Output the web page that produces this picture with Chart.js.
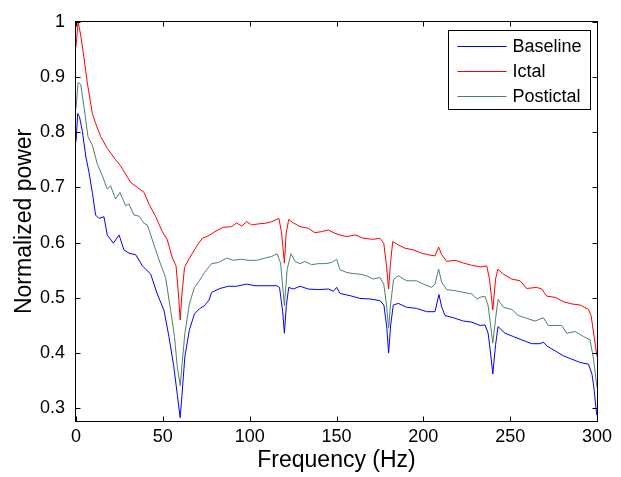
<!DOCTYPE html>
<html>
<head>
<meta charset="utf-8">
<script src="https://cdn.jsdelivr.net/npm/chart.js@4"></script>
<style>
    body { margin: 0; background: #fff; }
</style>
</head>
<body>
<canvas id="spectrum" width="621" height="477"></canvas>
<script>
// Частоты (Гц) и нормированная мощность для каждой кривой
const baselineFreq = [0, 1, 2, 3.7, 5.6, 7.5, 9.4, 11.3, 13.2, 16.1, 18, 21.5, 24.8, 27.6, 30.5, 34.4, 38.2, 43, 46.8, 50.7, 53.5, 56.3, 58.4, 60, 61, 62.7, 65.3, 68.2, 71, 74, 76.6, 78.1, 82.9, 87.7, 92.5, 98.3, 103.1, 108.8, 115.6, 117.2, 119, 120, 121.1, 122.5, 125.1, 129, 133.8, 139.5, 145.3, 148.2, 150.1, 152, 157.8, 163.5, 169.3, 175, 177.3, 179, 180, 181.2, 182.7, 185.6, 190.4, 196.1, 201.9, 206.7, 209, 210.6, 212.5, 217.3, 223.1, 227.9, 232.7, 235.5, 237.3, 238.8, 240, 241.6, 243, 247, 251.8, 256.6, 262.4, 267.2, 269.1, 271.1, 275.9, 280.7, 285.5, 290.3, 295.1, 297.1, 298.4, 299.5, 300];
const baselinePower = [0.783, 0.834, 0.828, 0.801, 0.757, 0.727, 0.691, 0.650, 0.644, 0.647, 0.614, 0.599, 0.614, 0.587, 0.581, 0.578, 0.558, 0.543, 0.507, 0.477, 0.430, 0.376, 0.323, 0.283, 0.323, 0.394, 0.442, 0.471, 0.480, 0.486, 0.496, 0.510, 0.517, 0.521, 0.521, 0.525, 0.522, 0.522, 0.522, 0.519, 0.475, 0.436, 0.486, 0.519, 0.516, 0.521, 0.516, 0.515, 0.516, 0.512, 0.519, 0.508, 0.504, 0.499, 0.498, 0.495, 0.487, 0.445, 0.400, 0.451, 0.487, 0.490, 0.483, 0.481, 0.475, 0.475, 0.506, 0.483, 0.468, 0.464, 0.458, 0.456, 0.450, 0.451, 0.436, 0.398, 0.362, 0.415, 0.448, 0.436, 0.430, 0.424, 0.417, 0.417, 0.420, 0.413, 0.404, 0.395, 0.389, 0.383, 0.380, 0.362, 0.333, 0.297, 0.287];

const ictalFreq = [0, 1.2, 2.7, 4.6, 6.5, 9.4, 11.3, 14.2, 18, 22.8, 25.7, 31.5, 35.3, 39.2, 42, 45.9, 49.7, 52.6, 55.5, 57.6, 59, 60, 61, 62.5, 65.3, 70, 72.8, 76.6, 80, 84.8, 89.6, 92.5, 95.4, 98.3, 101.1, 105, 108.8, 112.7, 116.8, 118.3, 120, 121, 122.5, 125.1, 129, 133.8, 137.6, 141.4, 145.3, 149.1, 152, 155.9, 160.7, 165.5, 171.2, 175, 177.2, 178.8, 180, 181.1, 182.4, 185.6, 189.4, 194.2, 199, 202.9, 206.7, 208.8, 210.6, 213.5, 218.3, 223.1, 227.9, 232.7, 236.5, 238.1, 240, 241.6, 242.9, 246.1, 250.9, 255.7, 259.5, 265.3, 268.2, 271.1, 275.9, 280.7, 285.5, 290.3, 295.1, 296.6, 298.2, 300];
const ictalPower = [0.955, 1.0, 0.976, 0.935, 0.890, 0.834, 0.816, 0.792, 0.771, 0.750, 0.739, 0.709, 0.700, 0.691, 0.670, 0.647, 0.620, 0.605, 0.572, 0.558, 0.507, 0.460, 0.507, 0.555, 0.572, 0.596, 0.608, 0.613, 0.620, 0.628, 0.629, 0.636, 0.630, 0.638, 0.632, 0.634, 0.635, 0.638, 0.644, 0.620, 0.563, 0.617, 0.642, 0.636, 0.629, 0.626, 0.618, 0.620, 0.623, 0.617, 0.614, 0.611, 0.614, 0.608, 0.606, 0.608, 0.599, 0.558, 0.516, 0.564, 0.602, 0.596, 0.590, 0.587, 0.581, 0.578, 0.576, 0.592, 0.578, 0.566, 0.568, 0.563, 0.559, 0.556, 0.558, 0.534, 0.478, 0.534, 0.552, 0.543, 0.534, 0.531, 0.517, 0.519, 0.516, 0.503, 0.501, 0.493, 0.489, 0.487, 0.479, 0.468, 0.433, 0.394];

const postictalFreq = [0, 1.2, 2.7, 4.6, 6.9, 9.4, 12.3, 15.2, 18, 19.9, 22.8, 25.3, 28.6, 30.5, 33.4, 36.3, 39.2, 41.1, 44.9, 48.7, 51.6, 54.5, 56.7, 58.3, 60, 60.8, 62.7, 65.3, 68.2, 71, 74, 78.1, 82, 86.8, 90.6, 95.4, 99.2, 104, 108.8, 112.7, 115.8, 117.8, 120, 121.6, 123.8, 126.1, 129, 131.9, 135.7, 139.5, 143.4, 147.2, 150.1, 152, 155.9, 159.7, 163.5, 167.4, 171.2, 175, 177.2, 178.8, 180, 181.1, 182.9, 185.6, 190.4, 196.1, 200, 204.8, 206.7, 208.8, 210.6, 213.5, 218.3, 223.1, 227.9, 230.8, 232.7, 235.5, 237.3, 238.7, 240, 241.6, 243, 246.1, 250.9, 254.7, 259.5, 264.3, 269.1, 272, 276.8, 279.7, 282.6, 287.4, 292.2, 296, 297.9, 300];
const postictalPower = [0.843, 0.890, 0.887, 0.846, 0.792, 0.777, 0.742, 0.721, 0.697, 0.703, 0.679, 0.691, 0.667, 0.670, 0.650, 0.648, 0.635, 0.632, 0.596, 0.561, 0.537, 0.477, 0.430, 0.376, 0.341, 0.370, 0.436, 0.489, 0.519, 0.531, 0.546, 0.562, 0.564, 0.572, 0.568, 0.570, 0.568, 0.568, 0.572, 0.575, 0.580, 0.563, 0.486, 0.552, 0.580, 0.566, 0.562, 0.566, 0.560, 0.562, 0.562, 0.564, 0.570, 0.551, 0.546, 0.544, 0.543, 0.540, 0.534, 0.537, 0.525, 0.487, 0.445, 0.487, 0.534, 0.540, 0.531, 0.531, 0.525, 0.519, 0.525, 0.552, 0.528, 0.515, 0.513, 0.510, 0.507, 0.498, 0.501, 0.503, 0.486, 0.451, 0.418, 0.462, 0.497, 0.483, 0.479, 0.468, 0.463, 0.458, 0.464, 0.450, 0.450, 0.450, 0.436, 0.439, 0.430, 0.424, 0.391, 0.338];

const seriesNames = ['Baseline', 'Ictal', 'Postictal'];
const seriesColors = ['#0000ff', '#ff0000', '#4f8066'];

const FONT = "'Liberation Sans', Arial, sans-serif";

// собираем точки {x, y} из пары массивов
function toPoints(freq, power) {
    return freq.map((f, i) => ({ x: f, y: power[i] }));
}

// рамка вокруг осей и засечки внутрь, как в MATLAB
const axesBox = {
    id: 'axesBox',
    afterDraw(chart) {
        const { ctx, chartArea: a, scales: { x, y } } = chart;
        const L = Math.round(a.left) - 0.5, R = Math.round(a.right) + 0.5;
        const T = Math.round(a.top) - 0.5, B = Math.round(a.bottom) + 0.5;
        const len = 5;
        ctx.save();
        ctx.strokeStyle = '#000';
        ctx.lineWidth = 1;
        ctx.strokeRect(L, T, R - L, B - T);
        ctx.beginPath();
        x.ticks.forEach(t => {
            const px = Math.round(x.getPixelForValue(t.value)) + 0.5;
            ctx.moveTo(px, B); ctx.lineTo(px, B - len);
            ctx.moveTo(px, T); ctx.lineTo(px, T + len);
        });
        y.ticks.forEach(t => {
            const py = Math.round(y.getPixelForValue(t.value)) + 0.5;
            ctx.moveTo(L, py); ctx.lineTo(L + len, py);
            ctx.moveTo(R, py); ctx.lineTo(R - len, py);
        });
        ctx.stroke();
        ctx.restore();
    }
};

// легенда в правом верхнем углу внутри области графика
const boxLegend = {
    id: 'boxLegend',
    afterDraw(chart) {
        const { ctx, chartArea: a } = chart;
        const w = 142, h = 79;
        const left = Math.round(a.right) - 7 - w + 0.5;
        const top = Math.round(a.top) + 8 + 0.5;
        ctx.save();
        ctx.fillStyle = '#fff';
        ctx.fillRect(left, top, w, h);
        ctx.strokeStyle = '#000';
        ctx.lineWidth = 1;
        ctx.strokeRect(left, top, w, h);
        ctx.font = '18px ' + FONT;
        ctx.textBaseline = 'middle';
        chart.data.datasets.forEach((ds, i) => {
            const cy = Math.round(top + 15 + i * 25.3) + 0.5;
            ctx.strokeStyle = ds.borderColor;
            ctx.beginPath();
            ctx.moveTo(left + 9, cy);
            ctx.lineTo(left + 58, cy);
            ctx.stroke();
            ctx.fillStyle = '#000';
            ctx.fillText(ds.label, left + 64, cy + 1);
        });
        ctx.restore();
    }
};

const freqs = [baselineFreq, ictalFreq, postictalFreq];
const powers = [baselinePower, ictalPower, postictalPower];

new Chart(document.getElementById('spectrum').getContext('2d'), {
    type: 'line',
    data: {
        datasets: seriesNames.map((name, i) => ({
            label: name,
            data: toPoints(freqs[i], powers[i]),
            borderColor: seriesColors[i],
            borderWidth: 1,
            pointRadius: 0,
            tension: 0,
            fill: false
        }))
    },
    options: {
        responsive: false,
        animation: false,
        layout: { padding: { top: 15, right: 24, bottom: 0, left: 0 } },
        plugins: {
            legend: { display: false },
            tooltip: { enabled: false }
        },
        scales: {
            x: {
                type: 'linear',
                min: 0,
                max: 300,
                afterFit: s => { s.height = 56; },
                grid: { display: false, drawTicks: false },
                border: { display: false },
                ticks: {
                    stepSize: 50,
                    padding: 5,
                    color: '#000',
                    maxRotation: 0,
                    font: { family: FONT, size: 18 }
                },
                title: {
                    display: true,
                    text: 'Frequency (Hz)',
                    color: '#000',
                    padding: { top: 0, bottom: 3 },
                    font: { family: FONT, size: 23 }
                }
            },
            y: {
                min: 0.277,
                max: 1,
                afterFit: s => { s.width = 76; },
                grid: { display: false, drawTicks: false },
                border: { display: false },
                ticks: {
                    stepSize: 0.1,
                    includeBounds: false,
                    padding: 11,
                    color: '#000',
                    font: { family: FONT, size: 18 },
                    callback: v => String(Number(v.toFixed(1)))
                },
                title: {
                    display: true,
                    text: 'Normalized power',
                    color: '#000',
                    padding: { top: 11, bottom: 0 },
                    font: { family: FONT, size: 23 }
                }
            }
        }
    },
    plugins: [axesBox, boxLegend]
});
</script>
</body>
</html>
